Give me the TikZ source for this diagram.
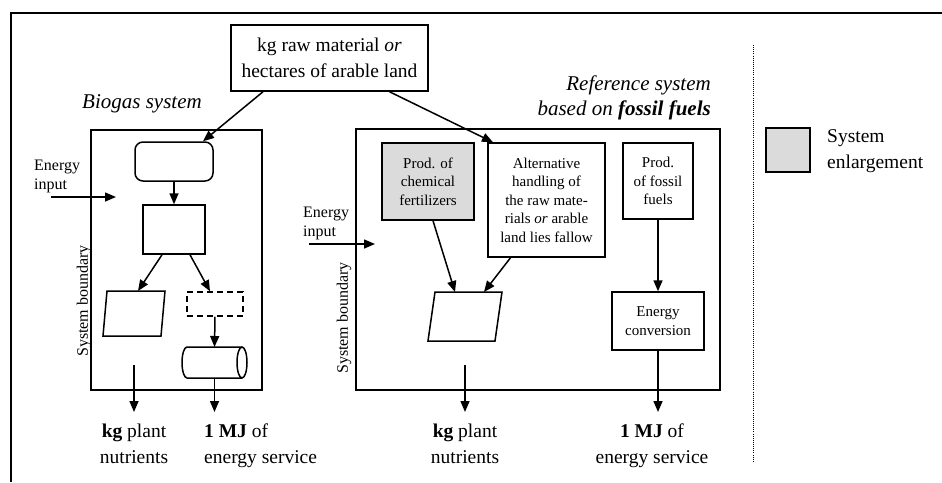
\documentclass[tikz,border=0pt]{standalone}
\usepackage{fontspec}
\setmainfont{Liberation Serif}
\usetikzlibrary{arrows.meta,shapes.geometric,calc}
\newcommand\fsmain{\fontsize{19.5}{25.5}\selectfont}
\newcommand\fsbox{\fontsize{15}{18.5}\selectfont}
\newcommand\fsnote{\fontsize{16}{19}\selectfont}
\newcommand\fstitle{\fontsize{21}{25}\selectfont\itshape}
\begin{document}
\begin{tikzpicture}[x=1pt,y=-1pt,
  every node/.style={font=\fsmain},
  ln/.style={line width=1.5pt},
  box/.style={draw, ln, align=center, inner sep=0pt, font=\fsbox},
  arr/.style={line width=1.5pt, -{Triangle[length=11pt,width=9pt]}},
  frame/.style={inner sep=0pt, outer sep=0pt},
  lab/.style={anchor=north, align=center, inner sep=0pt},
  note/.style={font=\fsnote, align=left, anchor=west, inner sep=0pt},
  bound/.style={rotate=90, font=\fsnote, inner sep=0pt},
]
\useasboundingbox (0,0) rectangle (942,482);

% outer frame (cropped)
\draw[ln] (942,13) -- (11,13) -- (11,482);

% top box
\node[box, font=\fsmain, minimum width=197pt, minimum height=66pt] (top) at (329.5,58)
  {kg raw material \emph{or}\\hectares of arable land};

% ---------------- Biogas system ----------------
\node[font=\fstitle] (tB) at (142,104) {Biogas system};
\node[draw, ln, minimum width=171pt, minimum height=260pt] (bio) at (176.5,260) {};
\node[draw, ln, rounded corners=8pt, minimum width=78pt, minimum height=39pt] (rr) at (174,161.5) {};
\node[draw, ln, minimum width=62pt, minimum height=49pt] (rc) at (174,229.5) {};
\node[frame, minimum width=62pt, minimum height=45pt] (p1) at (134,313.5) {};
\draw[ln, line join=miter] (p1.south west) -- ([xshift=4pt]p1.north west) -- (p1.north east) -- ([xshift=-4pt]p1.south east) -- cycle;
\node[draw, ln, dash pattern=on 6pt off 4pt, minimum width=56pt, minimum height=24pt] (ds) at (215,304) {};
\node[frame, minimum width=65pt, minimum height=31pt] (cy) at (214.5,362.5) {};
\draw[ln] (242,347) -- (187,347) arc[start angle=90, end angle=270, x radius=5pt, y radius=15.5pt] -- (242,378);
\draw[ln] (242,362.5) ellipse[x radius=5pt, y radius=15.5pt];

\node[bound] (sbB) at (84,301) {System boundary};
\node[note] (eiB) at (34,176) {Energy\\input};
\coordinate (eiB1) at (51,197);
\coordinate (eiB2) at (116,197);
\draw[arr] (eiB1) -- (eiB2);

\node[lab] (kgB) at (134,424) {\textbf{kg} plant\\nutrients};
\node[lab, anchor=north west, align=left] (mjB) at (204,424) {\textbf{1 MJ} of\\energy service};
\coordinate (pB) at (134,365);

\draw[arr] ([xshift=-66.5pt]top.south) -- ([xshift=29pt]rr.north);
\draw[arr] (rr.south) -- (rc.north);
\draw[arr] ([xshift=-12pt]rc.south) -- ([xshift=4pt]p1.north);
\draw[arr] ([xshift=16pt]rc.south) -- ([xshift=-5pt]ds.north);
\draw[arr] (ds.south) -- (cy.north);
\draw[arr, shorten >=12pt] (cy.south) -- (cy.south |- mjB.north);
\draw[arr, shorten >=12pt] (pB) -- (kgB.north);

% ---------------- Reference system ----------------
\node[font=\fstitle, align=right, anchor=east, inner sep=0pt] (tR) at (711,98)
  {Reference system\\based on \textbf{fossil fuels}};
\node[draw, ln, minimum width=364pt, minimum height=261pt] (ref) at (538,259.5) {};
\node[box, fill=black!14, minimum width=92pt, minimum height=77pt] (gf) at (428,181.5)
  {Prod. of\\chemical\\fertilizers};
\node[box, minimum width=117pt, minimum height=114pt] (alt) at (546.5,200)
  {Alternative\\handling of\\the raw mate-\\rials \emph{or} arable\\land lies fallow};
\node[box, minimum width=70pt, minimum height=76pt] (ff) at (658,181)
  {Prod.\\of fossil\\fuels};
\node[box, minimum width=92pt, minimum height=58pt] (ec) at (658,321)
  {Energy\\conversion};
\node[frame, minimum width=74pt, minimum height=49pt] (p2) at (465,316.5) {};
\draw[ln, line join=miter] (p2.south west) -- ([xshift=7pt]p2.north west) -- (p2.north east) -- ([xshift=-7pt]p2.south east) -- cycle;

\node[bound] (sbR) at (344,318) {System boundary};
\node[note] (eiR) at (303,223) {Energy\\input};
\coordinate (eiR1) at (309,244);
\coordinate (eiR2) at (375,244);
\draw[arr] (eiR1) -- (eiR2);

\node[lab] (kgR) at (465,424) {\textbf{kg} plant\\nutrients};
\node[lab] (mjR) at (652,424) {\textbf{1 MJ} of\\energy service};
\coordinate (pR) at (465,365);

\draw[arr] ([xshift=60pt]top.south) -- ([xshift=-53.5pt]alt.north);
\draw[arr] ([xshift=5pt]gf.south) -- ([xshift=-10pt]p2.north);
\draw[arr] ([xshift=-36pt]alt.south) -- ([xshift=19pt]p2.north);
\draw[arr] (ff.south) -- (ec.north);
\draw[arr, shorten >=12pt] (ec.south) -- (ec.south |- mjR.north);
\draw[arr, shorten >=12pt] (pR) -- (kgR.north);

% ---------------- Legend ----------------
\coordinate (d1) at (753,45);
\coordinate (d2) at (753,461);
\draw[line width=0.9pt, dash pattern=on 0.9pt off 1.2pt] (d1) -- (d2);
\node[draw, ln, fill=black!14, minimum width=44pt, minimum height=44pt] (lg) at (788,150) {};
\node[anchor=west, align=left, inner sep=0pt] (lgt) at (827,151) {System\\enlargement};
\end{tikzpicture}
\end{document}
